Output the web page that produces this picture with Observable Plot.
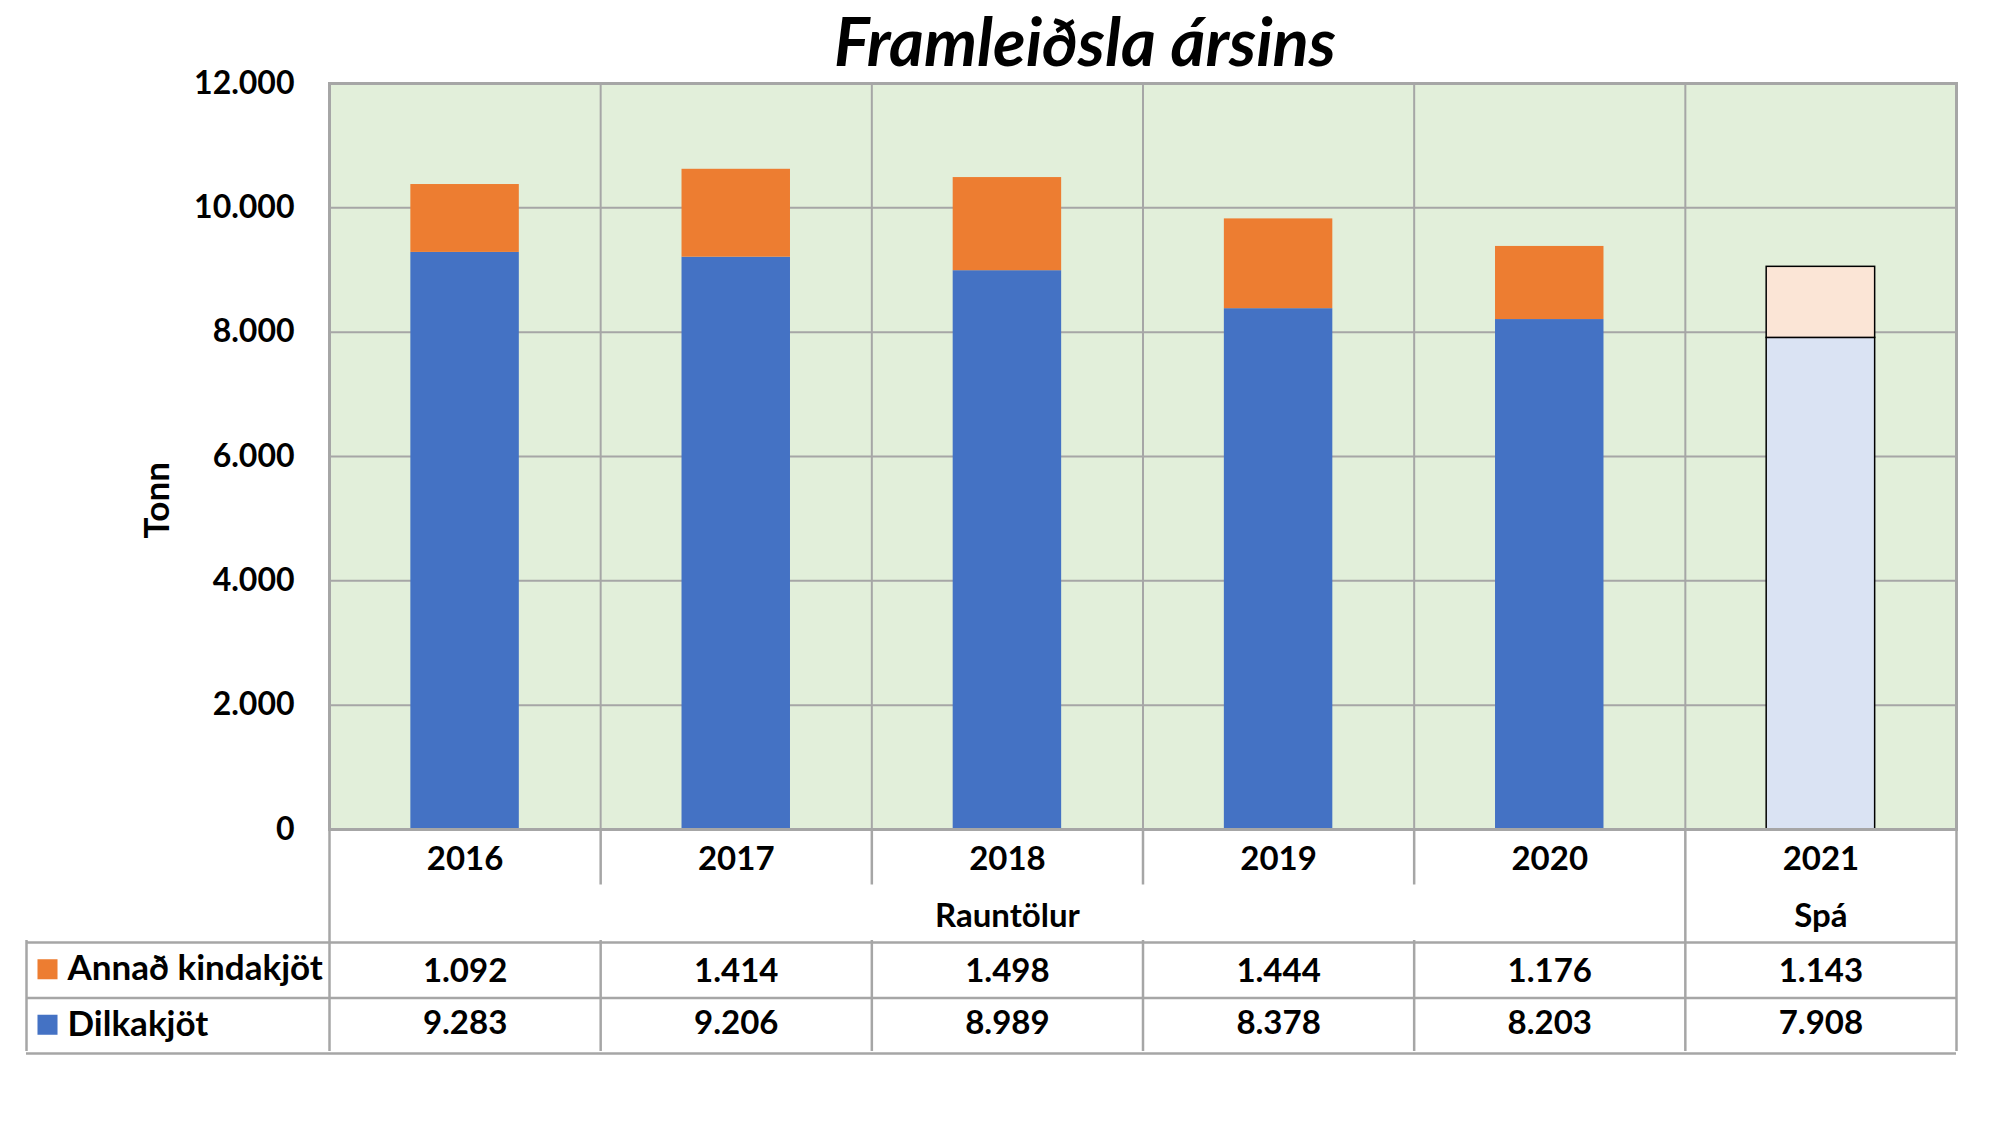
<!DOCTYPE html>
<html>
<head>
<meta charset="utf-8">
<script src="https://cdn.jsdelivr.net/npm/d3@7"></script>
<script src="https://cdn.jsdelivr.net/npm/@observablehq/plot@0.6"></script>
<style>
  html, body { margin: 0; padding: 0; background: #fff; }
  #wrap { position: relative; width: 2000px; height: 1125px; overflow: hidden; font-family: Lato, "Open Sans", sans-serif; }
  #title { position: absolute; left: 1085px; top: 7px; transform: translateX(-50%); margin: 0;
           font: italic bold 67px Lato, "Open Sans", sans-serif; line-height: 1; white-space: nowrap; color: #000; }
  #chart { position: absolute; left: 0; top: 0; }
  #table { position: absolute; left: 0; top: 829px; }
  svg { overflow: visible; }
</style>
</head>
<body>
<div id="wrap">
  <h1 id="title">Framleiðsla ársins</h1>
  <div id="chart"></div>
  <div id="table"></div>
</div>
<script>
// ---- data ----
const years = ["2016", "2017", "2018", "2019", "2020", "2021"];
const phase = ["Rauntölur", "Rauntölur", "Rauntölur", "Rauntölur", "Rauntölur", "Spá"];
const dilkakjot = [9283, 9206, 8989, 8378, 8203, 7908];
const annad = [1092, 1414, 1498, 1444, 1176, 1143];
const seriesNames = ["Annað kindakjöt", "Dilkakjöt"];
const yTicks = [0, 2000, 4000, 6000, 8000, 10000, 12000];
const yLabel = "Tonn";

// ---- styles ----
const colors = {"Dilkakjöt": "#4472C4", "Annað kindakjöt": "#ED7D31"};
const fcColors = {"Dilkakjöt": "#DAE3F3", "Annað kindakjöt": "#FBE5D6"};
const gridColor = "#A6A6A6";
const FS = 32;

const loc = d3.formatLocale({decimal: ",", thousands: ".", grouping: [3], currency: ["", ""]});
const fmt = loc.format(",d");

const rows = years.map((year, i) => ({
  year, i, phase: phase[i], dilk: dilkakjot[i], annad: annad[i], forecast: phase[i] === "Spá"
}));
const segs = [];
rows.forEach(r => {
  segs.push({series: "Dilkakjöt", i: r.i, y1: 0, y2: r.dilk, forecast: r.forecast});
  segs.push({series: "Annað kindakjöt", i: r.i, y1: r.dilk, y2: r.dilk + r.annad, forecast: r.forecast});
});
const bounds = d3.range(years.length + 1);
const barPad = 0.3;

const chart = Plot.plot({
  width: 2000, height: 840,
  marginLeft: 329, marginRight: 44, marginTop: 83, marginBottom: 11,
  style: {fontFamily: "Lato, 'Open Sans', sans-serif", color: "#000", background: "transparent"},
  x: {domain: [0, years.length], axis: null},
  y: {domain: [0, 12000], axis: null},
  marks: [
    Plot.frame({fill: "#E2EFDA"}),
    Plot.ruleY(yTicks, {stroke: gridColor, strokeWidth: 2}),
    Plot.ruleX(bounds, {stroke: gridColor, strokeWidth: 2}),
    Plot.rect(segs, {
      filter: d => !d.forecast,
      x1: d => d.i + barPad, x2: d => d.i + 1 - barPad, y1: "y1", y2: "y2",
      fill: d => colors[d.series]
    }),
    Plot.rect(segs, {
      filter: d => d.forecast,
      x1: d => d.i + barPad, x2: d => d.i + 1 - barPad, y1: "y1", y2: "y2",
      fill: d => fcColors[d.series], stroke: "#000", strokeWidth: 1.5
    }),
    Plot.frame({stroke: gridColor, strokeWidth: 3}),
    Plot.axisY(yTicks, {
      tickSize: 0, tickPadding: 35, fontSize: FS, fontWeight: "bold",
      tickFormat: fmt, label: null
    }),
    Plot.text([yLabel], {
      frameAnchor: "left", dx: -172, dy: 82, rotate: -90,
      fontSize: 35, fontWeight: "bold"
    })
  ]
});
document.getElementById("chart").appendChild(chart);

// ---- data table below the chart ----
const groupBounds = new Set([0, years.length]);
phase.forEach((p, i) => { if (i > 0 && p !== phase[i - 1]) groupBounds.add(i); });
const vsegs = [];
bounds.forEach(b => {
  if (groupBounds.has(b)) vsegs.push({x: b, y1: 0, y2: 4});
  else { vsegs.push({x: b, y1: 0, y2: 1}); vsegs.push({x: b, y1: 2, y2: 4}); }
});
const groups = d3.groups(rows, d => d.phase).map(([name, rs]) => ({
  name, x: (d3.min(rs, d => d.i) + d3.max(rs, d => d.i) + 1) / 2
}));
const seriesRows = seriesNames.map((name, k) => ({name, row: 2.5 + k}));
const labelCol = 303;

const table = Plot.plot({
  width: 2000, height: 296,
  marginLeft: 329, marginRight: 44, marginTop: 0, marginBottom: 72,
  style: {fontFamily: "Lato, 'Open Sans', sans-serif", color: "#000", background: "transparent"},
  x: {domain: [0, years.length], axis: null},
  y: {domain: [0, 4], range: [0, 222], axis: null},
  marks: [
    Plot.ruleX(vsegs, {x: "x", y1: "y1", y2: "y2", stroke: gridColor, strokeWidth: 2.5}),
    Plot.ruleX([{x: 0, y1: 2, y2: 4}], {x: "x", y1: "y1", y2: "y2", dx: -labelCol, stroke: gridColor, strokeWidth: 2.5}),
    Plot.ruleY([2, 3, 4], {insetLeft: -labelCol, stroke: gridColor, strokeWidth: 2.5, dy: 2}),
    Plot.text(rows, {x: d => d.i + 0.5, y: () => 0.5, text: "year", fontSize: 33, fontWeight: "bold", dy: 2}),
    Plot.text(groups, {x: "x", y: () => 1.5, text: "name", fontSize: 33, fontWeight: "bold", dy: 4}),
    Plot.text(rows, {x: d => d.i + 0.5, y: () => 2.5, text: d => fmt(d.annad), fontSize: 33, fontWeight: "bold", dy: 3}),
    Plot.text(rows, {x: d => d.i + 0.5, y: () => 3.5, text: d => fmt(d.dilk), fontSize: 33, fontWeight: "bold"}),
    Plot.dot(seriesRows, {x: () => 0, y: "row", dx: -282, symbol: "square", r: 11.3, fill: d => colors[d.name], dy: 1}),
    Plot.text(seriesRows, {x: () => 0, y: "row", dx: -262, text: "name", textAnchor: "start", fontSize: 35, fontWeight: "bold", dy: 1})
  ]
});
document.getElementById("table").appendChild(table);
</script>
</body>
</html>
